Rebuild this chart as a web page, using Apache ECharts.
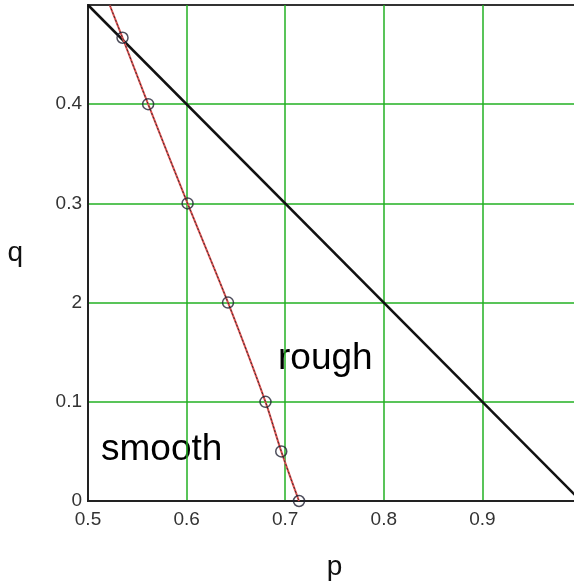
<!DOCTYPE html>
<html>
<head>
<meta charset="utf-8">
<script src="https://cdn.jsdelivr.net/npm/echarts@6/dist/echarts.min.js"></script>
<style>
  html, body { margin: 0; padding: 0; background: #fff; }
  #chart { width: 574px; height: 582px; }
</style>
</head>
<body>
<div id="chart"></div>
<script>
// boundary p + q = 1
var boundaryP = [0.5, 1.0];
var boundaryQ = [0.5, 0.0];
// red curve (through the circles)
var curveP = [0.522, 0.535, 0.561, 0.601, 0.642, 0.680, 0.696, 0.714];
var curveQ = [0.5, 0.467, 0.4, 0.3, 0.2, 0.1, 0.05, 0.0];
// circle markers
var markP = [0.535, 0.561, 0.601, 0.642, 0.680, 0.696, 0.714];
var markQ = [0.467, 0.4, 0.3, 0.2, 0.1, 0.05, 0.0];
// tick labels as printed
var xTicks = [0.5, 0.6, 0.7, 0.8, 0.9, 1.0];
var xTickLabels = ['0.5', '0.6', '0.7', '0.8', '0.9', ''];
var yTicks = [0, 0.1, 0.2, 0.3, 0.4, 0.5];
var yTickLabels = ['0', '0.1', '2', '0.3', '0.4', ''];

function zip(a, b) {
  var out = [];
  for (var i = 0; i < a.length; i++) out.push([a[i], b[i]]);
  return out;
}
function tickLabel(ticks, labels) {
  return function (v) {
    for (var i = 0; i < ticks.length; i++) {
      if (Math.abs(ticks[i] - v) < 1e-6) return labels[i];
    }
    return '';
  };
}

var font = 'Liberation Sans';
var green = '#22b022';

var myChart = echarts.init(document.getElementById('chart'));
var option = {
  backgroundColor: '#ffffff',
  animation: false,
  grid: { left: 88, top: 5, width: 493, height: 496, containLabel: false,
    outerBoundsMode: 'none',
    show: true, borderColor: '#333', borderWidth: 2, backgroundColor: 'transparent' },
  xAxis: {
    type: 'value', min: 0.5, max: 1.0, interval: 0.1,
    axisLine: { show: true, onZero: false, lineStyle: { color: '#222', width: 2 } },
    axisTick: { show: false },
    axisLabel: { formatter: tickLabel(xTicks, xTickLabels), color: '#333',
      fontFamily: font, fontSize: 19, margin: 9, showMinLabel: true },
    splitLine: { show: true, showMinLine: false, showMaxLine: false,
      lineStyle: { color: green, width: 1.5 } },
    name: 'p', nameLocation: 'middle', nameGap: 52,
    nameTextStyle: { fontFamily: font, fontSize: 28, color: '#111' }
  },
  yAxis: {
    type: 'value', min: 0, max: 0.5, interval: 0.1,
    axisLine: { show: true, onZero: false, lineStyle: { color: '#222', width: 2 } },
    axisTick: { show: false },
    axisLabel: { formatter: tickLabel(yTicks, yTickLabels), color: '#333',
      fontFamily: font, fontSize: 19, margin: 6 },
    splitLine: { show: true, showMinLine: false, showMaxLine: false,
      lineStyle: { color: green, width: 1.5 } },
    name: 'q', nameLocation: 'middle', nameGap: 65, nameRotate: 0,
    nameTextStyle: { fontFamily: font, fontSize: 28, color: '#111' }
  },
  series: [
    {
      type: 'line', data: zip(boundaryP, boundaryQ), symbol: 'none',
      lineStyle: { color: '#111', width: 2.5 }, z: 3
    },
    {
      type: 'line', data: zip(curveP, curveQ), symbol: 'none', smooth: 0.3,
      lineStyle: { color: '#e05050', width: 2 }, z: 3
    },
    {
      type: 'line', data: zip(curveP, curveQ), symbol: 'none', smooth: 0.3,
      lineStyle: { color: '#333', width: 1, type: [2, 2] }, z: 4
    },
    {
      type: 'scatter', data: zip(markP, markQ), symbol: 'circle', symbolSize: 11,
      itemStyle: { color: 'rgba(255,255,255,0)', borderColor: '#223', borderWidth: 1.5 }, z: 5
    }
  ],
  graphic: [
    { type: 'text', left: 278, top: 340,
      style: { text: 'rough', font: '37px "Liberation Sans"', fill: '#000' } },
    { type: 'text', left: 101, top: 431,
      style: { text: 'smooth', font: '37px "Liberation Sans"', fill: '#000' } }
  ]
};
myChart.setOption(option);
window.onresize = myChart.resize;
</script>
</body>
</html>
